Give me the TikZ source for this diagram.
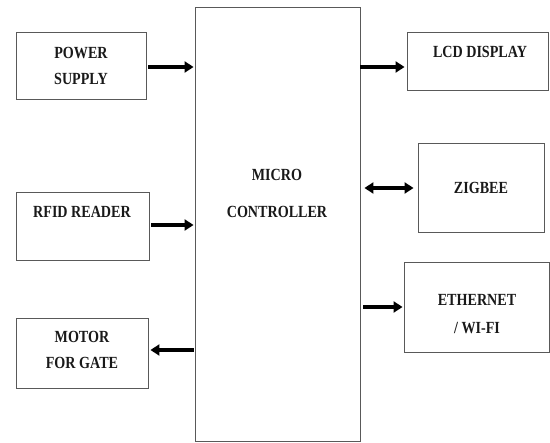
\documentclass[tikz,border=0pt]{standalone}
\usepackage{fontspec}
\setmainfont[FakeStretch=0.83]{Liberation Serif}
\usetikzlibrary{arrows.meta}
\begin{document}
\begin{tikzpicture}[x=1pt,y=-1pt,
  blk/.style={draw=black!65,line width=0.9pt,inner sep=0pt},
  lbl/.style={font=\fontsize{17}{26}\selectfont\bfseries,align=center,inner sep=0pt,text=black!90},
  conn/.style={line width=3.6pt,-{Triangle[length=9pt,width=11pt]}},
  biconn/.style={line width=3.6pt,{Triangle[length=9pt,width=11pt]}-{Triangle[length=9pt,width=11pt]}}]
\useasboundingbox (0,0) rectangle (550,443);
% boxes
\node[blk,minimum width=165pt,minimum height=434pt] (mc) at (277.5,224) {};
\node[blk,minimum width=130pt,minimum height=67pt] (ps) at (81,65.5) {};
\node[blk,minimum width=133pt,minimum height=68pt] (rf) at (82.5,226) {};
\node[blk,minimum width=132pt,minimum height=70pt] (mo) at (82,353) {};
\node[blk,minimum width=141pt,minimum height=58pt] (lcd) at (477.5,61) {};
\node[blk,minimum width=126pt,minimum height=89pt] (zb) at (481,187.5) {};
\node[blk,minimum width=145pt,minimum height=90pt] (et) at (476.5,307) {};
% labels
\node[lbl,font=\fontsize{17}{37}\selectfont\bfseries] (mct) at (277,193) {MICRO\\CONTROLLER};
\node[lbl] (pst) at (81,66) {POWER\\SUPPLY};
\node[lbl] (rft) at (82,212) {RFID READER};
\node[lbl] (mot) at (82,350) {MOTOR\\FOR GATE};
\node[lbl] (lcdt) at (480,52) {LCD DISPLAY};
\node[lbl] (zbt) at (481,188) {ZIGBEE};
\node[lbl,font=\fontsize{17}{28}\selectfont\bfseries] (ett) at (477,314) {ETHERNET\\/ WI-FI};
% connectors
\draw[conn] ([xshift=2pt]ps.east |- 0,67) -- ([xshift=-1pt]mc.west |- 0,67);
\draw[conn] ([xshift=2pt]rf.east |- 0,225) -- ([xshift=-1pt]mc.west |- 0,225);
\draw[conn] ([xshift=-1pt]mc.west |- 0,350) -- ([xshift=2pt]mo.east |- 0,350);
\draw[conn] (mc.east |- 0,67) -- ([xshift=-2pt]lcd.west |- 0,67);
\draw[biconn] ([xshift=4pt]mc.east |- 0,188) -- ([xshift=-4pt]zb.west |- 0,188);
\draw[conn] ([xshift=3pt]mc.east |- 0,307) -- ([xshift=-1pt]et.west |- 0,307);
\end{tikzpicture}
\end{document}
